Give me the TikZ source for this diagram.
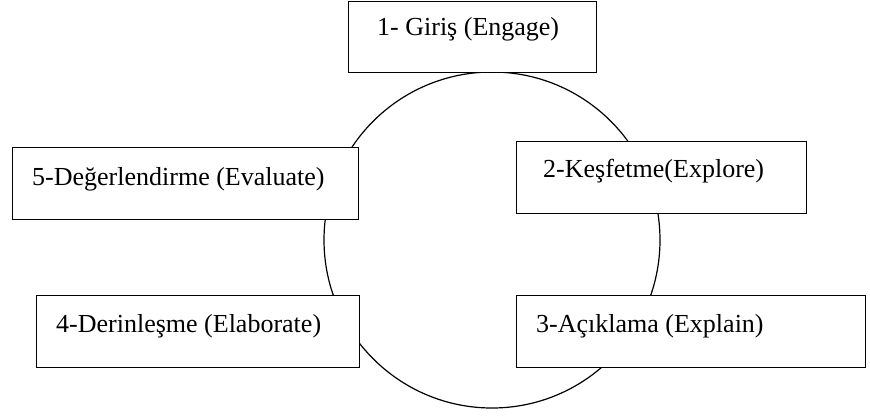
\documentclass[tikz,border=0pt]{standalone}
\usepackage{fontspec}
\setmainfont{Liberation Serif}
\begin{document}
\begin{tikzpicture}[x=1pt,y=-1pt,
  stagebox/.style={draw=black,fill=white,line width=1.2pt,rectangle,inner sep=0pt,anchor=north west},
  stagetext/.style={anchor=base west,inner sep=0pt,font=\fontsize{26}{30}\selectfont}]
\useasboundingbox (0,0) rectangle (870,416);
\fill[white] (0,0) rectangle (870,416);
\node[circle,draw=black,line width=1.2pt,minimum size=336pt,inner sep=0pt] (cyc) at (492,240) {};
\node[stagebox,minimum width=248pt,minimum height=71pt] (b1) at (348,1) {};
\node[stagebox,minimum width=346pt,minimum height=72pt] (b5) at (12,147) {};
\node[stagebox,minimum width=290pt,minimum height=72pt] (b2) at (516,141) {};
\node[stagebox,minimum width=323pt,minimum height=72pt] (b4) at (36,295) {};
\node[stagebox,minimum width=349pt,minimum height=72pt] (b3) at (516,295) {};
\node[stagetext] (t1) at (377,35) {1- Giriş (Engage)};
\node[stagetext] (t5) at (32,185) {5-Değerlendirme (Evaluate)};
\node[stagetext] (t2) at (543,177) {2-Keşfetme(Explore)};
\node[stagetext] (t4) at (56,332) {4-Derinleşme (Elaborate)};
\node[stagetext] (t3) at (536,332) {3-Açıklama (Explain)};
\end{tikzpicture}
\end{document}
